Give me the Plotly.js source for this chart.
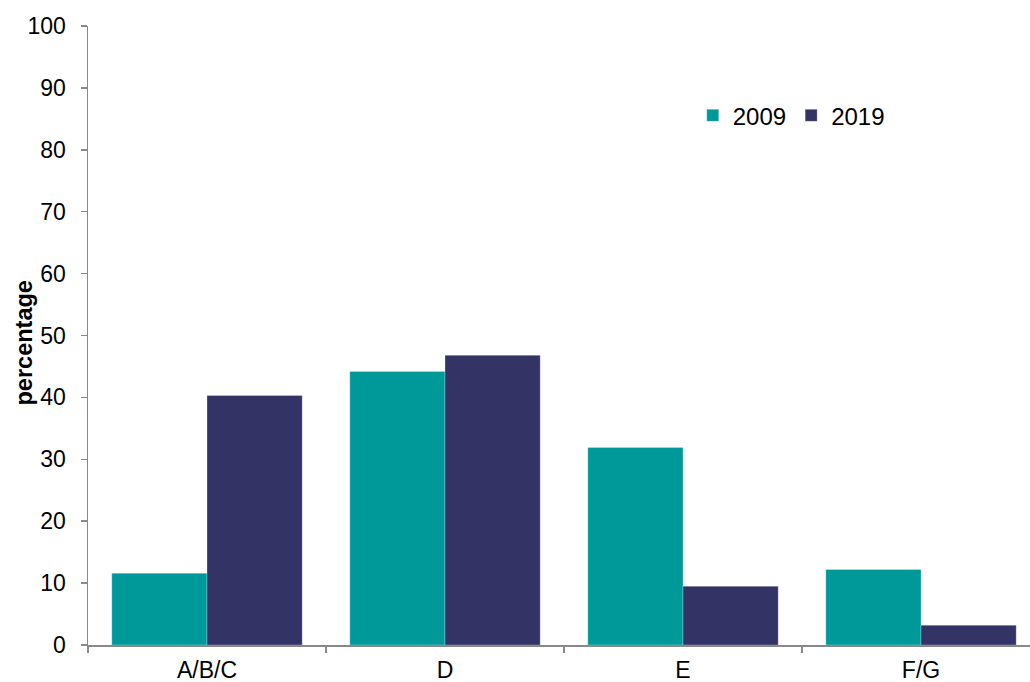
<!DOCTYPE html>
<html>
<head>
<meta charset="utf-8">
<script src="https://cdn.plot.ly/plotly-3.0.1.min.js"></script>
<style>html,body{margin:0;padding:0;background:#fff;}#chart{width:1030px;height:682px;}</style>
</head>
<body>
<div id="chart"></div>
<script>
const categories = ["A/B/C", "D", "E", "F/G"];
const values2009 = [11.6, 44.2, 31.9, 12.2];
const values2019 = [40.3, 46.8, 9.5, 3.2];
const seriesNames = ["2009", "2019"];
const yTicks = [0, 10, 20, 30, 40, 50, 60, 70, 80, 90, 100];
const yTitle = "percentage";

const FONT = "Liberation Sans, Arial, sans-serif";

const traces = [
  {
    type: "bar", name: seriesNames[0], x: categories, y: values2009,
    marker: {color: "#009999", line: {color: "rgba(255,255,255,0.35)", width: 0.8}},
    hoverinfo: "skip"
  },
  {
    type: "bar", name: seriesNames[1], x: categories, y: values2019,
    marker: {color: "#333366", line: {color: "rgba(255,255,255,0.35)", width: 0.8}},
    hoverinfo: "skip"
  }
];

const layout = {
  width: 1030, height: 682,
  margin: {l: 88, r: 0, t: 26, b: 36.5},
  paper_bgcolor: "#fff", plot_bgcolor: "#fff",
  font: {family: FONT, size: 23, color: "#000"},
  barmode: "group", bargap: 0.2, bargroupgap: 0,
  showlegend: true,
  legend: {
    orientation: "h", x: 0.642, y: 0.855, xanchor: "left", yanchor: "middle",
    font: {family: FONT, size: 24, color: "#000"},
    itemwidth: 30, traceorder: "normal", bgcolor: "rgba(0,0,0,0)"
  },
  xaxis: {
    type: "category", range: [-0.5, 3.458],
    showline: true, linecolor: "#898989", linewidth: 1.5,
    ticks: "outside", tickson: "boundaries", ticklen: 6, tickcolor: "#898989", tickwidth: 1.5,
    showgrid: false, zeroline: false, fixedrange: true,
    tickfont: {family: FONT, size: 23, color: "#000"},
    ticklabelstandoff: 4
  },
  yaxis: {
    range: [0, 100], tickvals: yTicks, ticktext: yTicks.map(String),
    showline: true, linecolor: "#898989", linewidth: 1.5,
    ticks: "outside", ticklen: 6, tickcolor: "#898989", tickwidth: 1.5,
    showgrid: false, zeroline: false, fixedrange: true,
    tickfont: {family: FONT, size: 23, color: "#000"},
    ticklabelstandoff: 10
  },
  annotations: [
    {
      text: "<b>" + yTitle + "</b>", xref: "paper", yref: "paper", x: 0, y: 0.5,
      xanchor: "center", yanchor: "middle", xshift: -65, yshift: -8, textangle: -90,
      showarrow: false, font: {family: FONT, size: 23.5, color: "#000"}
    }
  ]
};

Plotly.newPlot("chart", traces, layout, {staticPlot: true, displayModeBar: false});
</script>
</body>
</html>
